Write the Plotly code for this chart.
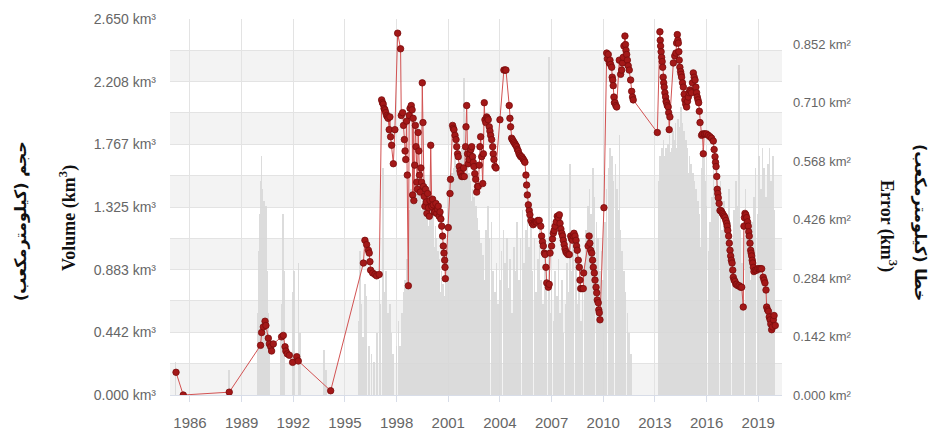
import plotly.graph_objects as go

# ---------------- DATA ----------------
vol_year = [
    1985.19, 1985.61, 1988.28,
    1990.10, 1990.16, 1990.26, 1990.36, 1990.41, 1990.55, 1990.61, 1990.69, 1990.74, 1990.84,
    1991.32, 1991.42, 1991.52, 1991.57, 1991.65, 1991.77, 1991.96, 1992.20, 1992.29,
    1994.17,
    1996.07, 1996.16, 1996.26, 1996.36, 1996.41, 1996.45, 1996.49, 1996.61, 1996.74, 1996.84, 1996.99,
    1997.13, 1997.18, 1997.22, 1997.27, 1997.32, 1997.37, 1997.42, 1997.47, 1997.51, 1997.57,
    1997.61, 1997.65, 1997.71, 1997.81, 1997.90,
    1998.06, 1998.23, 1998.27, 1998.35, 1998.40, 1998.45, 1998.49, 1998.53, 1998.58, 1998.62,
    1998.68, 1998.73, 1998.78, 1998.85, 1998.90, 1998.93, 1998.96, 1999.00, 1999.05, 1999.09,
    1999.13, 1999.17, 1999.21, 1999.25, 1999.29, 1999.33, 1999.37, 1999.41, 1999.45, 1999.49,
    1999.53, 1999.56, 1999.60, 1999.64, 1999.68, 1999.72, 1999.76, 1999.80, 1999.85, 1999.90,
    1999.94, 1999.98, 2000.04, 2000.09, 2000.13, 2000.18, 2000.23, 2000.28, 2000.33, 2000.38,
    2000.42, 2000.47, 2000.52, 2000.57, 2000.62, 2000.67, 2000.71, 2000.75, 2000.79, 2000.81,
    2000.83,
    2001.00, 2001.10, 2001.13, 2001.25, 2001.29, 2001.33, 2001.39, 2001.45, 2001.49, 2001.54,
    2001.58, 2001.64, 2001.68, 2001.72, 2001.78, 2001.84, 2001.89, 2001.93, 2002.00, 2002.03,
    2002.07, 2002.12, 2002.16, 2002.21, 2002.26, 2002.31, 2002.36, 2002.41, 2002.45, 2002.49,
    2002.54, 2002.59, 2002.65, 2002.70, 2002.74, 2002.80, 2002.84, 2002.88, 2002.94, 2003.00,
    2003.04, 2003.09, 2003.13, 2003.18, 2003.23, 2003.28, 2003.32, 2003.38, 2003.42, 2003.46,
    2003.52, 2003.58, 2003.61, 2003.65, 2003.71, 2003.77,
    2004.00, 2004.23, 2004.30, 2004.35, 2004.54, 2004.58, 2004.62, 2004.68, 2004.72, 2004.77,
    2004.82, 2004.87, 2004.92, 2004.97, 2005.02, 2005.06, 2005.11, 2005.16, 2005.21, 2005.26,
    2005.31, 2005.36, 2005.41, 2005.45, 2005.51, 2005.55, 2005.59, 2005.65, 2005.70, 2005.74,
    2005.80, 2005.87, 2005.93, 2006.00, 2006.07, 2006.13, 2006.20, 2006.28, 2006.37, 2006.42,
    2006.47, 2006.52, 2006.58, 2006.62, 2006.67, 2006.72, 2006.81, 2006.86, 2006.91,
    2007.00, 2007.05, 2007.10, 2007.15, 2007.20, 2007.27, 2007.33, 2007.39, 2007.45, 2007.49,
    2007.54, 2007.59, 2007.64, 2007.68, 2007.73, 2007.78, 2007.83, 2007.88, 2007.95,
    2008.03, 2008.11, 2008.16, 2008.22, 2008.26, 2008.30, 2008.36, 2008.42, 2008.45, 2008.49,
    2008.55, 2008.61, 2008.65, 2008.69, 2008.76, 2008.84, 2008.86,
    2009.12, 2009.18, 2009.22, 2009.27, 2009.33, 2009.38, 2009.42, 2009.48, 2009.52, 2009.58,
    2009.62, 2009.65, 2009.71, 2009.74, 2009.77, 2009.81,
    2010.04, 2010.20, 2010.24, 2010.29, 2010.35, 2010.39, 2010.43, 2010.49, 2010.52, 2010.55,
    2010.58, 2010.62, 2010.65, 2010.68, 2010.73, 2010.78, 2010.93,
    2011.01, 2011.07, 2011.12, 2011.16, 2011.20, 2011.26, 2011.29, 2011.32, 2011.36, 2011.40,
    2011.45, 2011.51, 2011.59, 2011.65, 2011.70, 2011.74,
    2013.14, 2013.29, 2013.31, 2013.33, 2013.36, 2013.39, 2013.42, 2013.45, 2013.48, 2013.51,
    2013.54, 2013.58, 2013.62, 2013.65, 2013.68, 2013.72, 2013.77, 2013.80, 2013.83, 2013.87,
    2014.07, 2014.15, 2014.22, 2014.26, 2014.30, 2014.33, 2014.36, 2014.39, 2014.41, 2014.45,
    2014.49, 2014.52, 2014.55, 2014.60, 2014.65, 2014.70, 2014.74, 2014.79, 2014.84, 2014.89,
    2014.94, 2014.99, 2015.03, 2015.08, 2015.13, 2015.18, 2015.23, 2015.28, 2015.33, 2015.38,
    2015.42, 2015.46, 2015.50, 2015.54, 2015.58, 2015.62, 2015.71, 2015.76, 2015.81, 2015.86,
    2015.91, 2016.00, 2016.10, 2016.20, 2016.29, 2016.39, 2016.44, 2016.49, 2016.52, 2016.55,
    2016.59, 2016.62, 2016.65, 2016.68, 2016.73, 2016.78, 2016.83, 2016.88, 2016.92, 2016.97,
    2017.02, 2017.07, 2017.12, 2017.17, 2017.20, 2017.23, 2017.28, 2017.32, 2017.36, 2017.40,
    2017.44, 2017.48, 2017.52, 2017.55, 2017.60, 2017.65, 2017.70, 2017.75, 2017.82, 2017.90,
    2017.97, 2018.04, 2018.13, 2018.17, 2018.20, 2018.23, 2018.28, 2018.33, 2018.38, 2018.42,
    2018.45, 2018.48, 2018.52, 2018.56, 2018.59, 2018.62, 2018.65, 2018.68, 2018.72, 2018.75,
    2018.83, 2018.91, 2018.98, 2019.06, 2019.13, 2019.20, 2019.29, 2019.34, 2019.39, 2019.45,
    2019.49, 2019.54, 2019.59, 2019.64, 2019.69, 2019.73, 2019.78, 2019.83, 2019.88, 2019.92,
    2019.99,
]
vol_value = [
    0.16, 0.00, 0.02,
    0.35, 0.44, 0.48, 0.52, 0.49, 0.40, 0.36, 0.34, 0.31, 0.36,
    0.41, 0.42, 0.34, 0.31, 0.29, 0.28, 0.23, 0.27, 0.24,
    0.03,
    0.93, 1.09, 1.06, 1.02, 1.00, 0.94, 0.88, 0.86, 0.85, 0.84, 0.85,
    2.08, 2.06, 2.05, 2.02, 2.01, 1.99, 1.97, 1.96, 1.95, 1.87,
    1.96, 1.82, 1.76, 1.63, 1.87,
    2.55, 2.44, 1.97, 1.99, 1.90, 1.80, 1.72, 1.66, 1.93, 1.55,
    0.77, 1.97, 2.02, 2.04, 2.01, 1.41, 1.95, 1.37, 1.62, 1.90,
    1.75, 1.50, 1.45, 1.85, 1.72, 1.55, 1.43, 1.60, 1.50, 2.20,
    1.92, 1.47, 1.40, 1.33, 1.45, 1.36, 1.28, 1.42, 1.32, 1.26,
    1.37, 1.76, 1.33, 1.38, 1.34, 1.29, 1.29, 1.35, 1.28, 1.31,
    1.33, 1.26, 1.29, 1.24, 1.19, 1.12, 1.05, 1.00, 0.95, 0.90,
    0.82,
    1.18, 1.42, 1.52, 1.90, 1.88, 1.87, 1.83, 1.80, 1.75, 1.70,
    1.68, 1.61, 1.58, 1.56, 1.54, 1.54, 1.60, 1.54, 1.75, 1.89,
    2.04, 1.70, 1.63, 1.66, 1.70, 1.73, 1.75, 1.68, 1.64, 1.61,
    1.56, 1.52, 1.43, 1.47, 1.47, 1.62, 1.75, 1.82, 1.68, 1.49,
    1.70, 2.06, 1.94, 1.92, 1.96, 1.95, 1.94, 1.89, 1.86, 1.83,
    1.80, 1.75, 1.70, 1.66, 1.61, 1.60,
    1.94, 2.29, 2.29, 2.29, 2.04, 1.95, 1.89, 1.81, 1.80, 1.79,
    1.78, 1.77, 1.76, 1.75, 1.73, 1.72, 1.70, 1.69, 1.68, 1.68,
    1.67, 1.66, 1.65, 1.64, 1.55, 1.48, 1.41, 1.34, 1.30, 1.27,
    1.23, 1.21, 1.20, 1.21, 1.22, 1.22, 1.23, 1.23, 1.19, 1.12,
    1.08, 1.05, 1.00, 0.99, 0.90, 0.79, 0.76, 0.78, 1.00,
    1.05, 1.10, 1.14, 1.16, 1.19, 1.22, 1.26, 1.25, 1.27, 1.21,
    1.17, 1.14, 1.12, 1.09, 1.06, 1.03, 1.01, 1.00, 0.99,
    0.99, 1.12, 1.10, 1.09, 1.12, 1.14, 1.12, 1.09, 1.05, 1.02,
    0.95, 0.90, 0.81, 0.75, 0.75, 0.75, 0.86,
    1.05, 1.12, 1.07, 1.02, 1.00, 0.95, 0.90, 0.86, 0.81, 0.76,
    0.72, 0.67, 0.65, 0.60, 0.58, 0.53,
    1.32, 2.41, 2.37, 2.40, 2.34, 2.36, 2.33, 2.31, 2.24, 2.22,
    2.18, 2.10, 2.06, 2.06, 2.04, 2.03, 2.36,
    2.26, 2.29, 2.34, 2.38, 2.46, 2.53, 2.47, 2.43, 2.40, 2.36,
    2.32, 2.29, 2.22, 2.14, 2.10, 2.08,
    1.85, 2.56, 2.50, 2.46, 2.42, 2.38, 2.35, 2.31, 2.24, 2.20,
    2.17, 2.13, 2.10, 2.07, 2.06, 2.04, 2.03, 1.99, 1.87, 1.96,
    2.34, 2.39, 2.41, 2.48, 2.54, 2.50, 2.48, 2.42, 2.36, 2.31,
    2.28, 2.26, 2.24, 2.20, 2.17, 2.12, 2.08, 2.05, 2.03, 2.07,
    2.10, 2.13, 2.15, 2.14, 2.13, 2.20, 2.27, 2.24, 2.22, 2.17,
    2.13, 2.10, 2.08, 2.06, 2.00, 1.92, 1.83, 1.84, 1.70, 1.84,
    1.84, 1.84, 1.83, 1.82, 1.81, 1.79, 1.73, 1.68, 1.64, 1.61,
    1.54, 1.45, 1.42, 1.39, 1.35, 1.30, 1.30, 1.29, 1.28, 1.27,
    1.26, 1.25, 1.23, 1.21, 1.19, 1.16, 1.12, 1.07, 1.02, 0.98,
    0.95, 0.93, 0.88, 0.83, 0.81, 0.80, 0.78, 0.78, 0.77, 0.77,
    0.76, 0.76, 0.62, 1.19, 1.25, 1.28, 1.27, 1.25, 1.22, 1.19,
    1.15, 1.12, 1.07, 1.02, 1.00, 0.98, 0.95, 0.93, 0.90, 0.87,
    0.88, 0.88, 0.89, 0.89, 0.89, 0.89, 0.83, 0.81, 0.79, 0.74,
    0.62, 0.60, 0.59, 0.55, 0.53, 0.50, 0.46, 0.48, 0.53, 0.56,
    0.49,
]

err_year = [
    1985.15, 1988.25,
    1989.95, 1990.00, 1990.05, 1990.10, 1990.15, 1990.20, 1990.25, 1990.30, 1990.35, 1990.40,
    1990.45, 1990.50, 1990.55, 1990.60,
    1991.30, 1991.35, 1991.40, 1991.45, 1991.50, 1991.95, 1992.05, 1992.30, 1992.40,
    1993.80, 1993.90,
    1995.80, 1995.88, 1995.95, 1996.05, 1996.15, 1996.25, 1996.40, 1996.55, 1996.70, 1996.85,
    1997.00, 1997.05, 1997.20, 1997.30, 1997.40, 1997.50, 1997.60, 1997.70, 1997.80,
    1998.00, 1998.10, 1998.20, 1998.30, 1998.40, 1998.50, 1998.60, 1998.70, 1998.75, 1998.80,
    1998.85, 1998.90, 1998.95, 1999.00, 1999.05, 1999.10, 1999.15, 1999.20, 1999.25, 1999.30,
    1999.35, 1999.40, 1999.45, 1999.50, 1999.55, 1999.60, 1999.65, 1999.70, 1999.75, 1999.80,
    1999.85, 1999.90, 1999.95, 2000.00, 2000.05, 2000.10, 2000.15, 2000.20, 2000.25, 2000.30,
    2000.35, 2000.40, 2000.45, 2000.50, 2000.55, 2000.60, 2000.65, 2000.70, 2000.75, 2000.80,
    2000.85, 2000.90, 2000.95, 2001.00, 2001.05, 2001.10, 2001.15, 2001.20, 2001.25, 2001.30,
    2001.35, 2001.40, 2001.45, 2001.50, 2001.55, 2001.60, 2001.65, 2001.70, 2001.75, 2001.80,
    2001.85, 2001.90, 2001.95, 2002.00, 2002.05, 2002.10, 2002.15, 2002.20, 2002.25, 2002.30,
    2002.35, 2002.40, 2002.45, 2002.50, 2002.55, 2002.60, 2002.65, 2002.70, 2002.75, 2002.80,
    2002.85, 2002.90, 2002.95, 2003.00, 2003.10, 2003.20, 2003.30, 2003.40, 2003.50, 2003.60,
    2003.70, 2003.80, 2003.90, 2004.00, 2004.10, 2004.20, 2004.30, 2004.40, 2004.50, 2004.60,
    2004.70, 2004.80, 2004.90, 2005.00, 2005.10, 2005.20, 2005.30, 2005.40, 2005.50, 2005.60,
    2005.70, 2005.80, 2005.90, 2006.00, 2006.10, 2006.20, 2006.30, 2006.40, 2006.50, 2006.60,
    2006.70, 2006.85, 2006.95, 2007.00, 2007.10, 2007.20, 2007.30, 2007.40, 2007.50, 2007.60,
    2007.70, 2007.80, 2007.90, 2008.00, 2008.07, 2008.15, 2008.25, 2008.40, 2008.50, 2008.60,
    2008.70, 2008.80, 2008.90, 2009.00, 2009.10, 2009.20, 2009.30, 2009.40, 2009.50, 2009.60,
    2009.70, 2009.80, 2009.90, 2010.00, 2010.10, 2010.20, 2010.30, 2010.40, 2010.50, 2010.60,
    2010.70, 2010.80, 2010.90, 2010.95, 2011.00, 2011.10, 2011.20, 2011.30, 2011.40, 2011.50,
    2011.60,
    2013.20, 2013.25, 2013.30, 2013.35, 2013.40, 2013.45, 2013.50, 2013.55, 2013.60, 2013.65,
    2013.70, 2013.75, 2013.80, 2013.85, 2013.90, 2013.95, 2014.00, 2014.05, 2014.10, 2014.15,
    2014.20, 2014.25, 2014.30, 2014.35, 2014.40, 2014.45, 2014.50, 2014.55, 2014.60, 2014.65,
    2014.70, 2014.75, 2014.80, 2014.85, 2014.90, 2014.95, 2015.00, 2015.05, 2015.10, 2015.15,
    2015.20, 2015.25, 2015.30, 2015.35, 2015.40, 2015.45, 2015.50, 2015.55, 2015.60, 2015.65,
    2015.70, 2015.75, 2015.80, 2015.85, 2015.90, 2015.95, 2016.00, 2016.10, 2016.20, 2016.30,
    2016.40, 2016.50, 2016.60, 2016.70, 2016.80, 2016.90, 2017.00, 2017.10, 2017.20, 2017.30,
    2017.40, 2017.50, 2017.60, 2017.70, 2017.80, 2017.88, 2017.95, 2018.05, 2018.15, 2018.25,
    2018.35, 2018.45, 2018.55, 2018.65, 2018.75, 2018.85, 2018.95, 2019.05, 2019.15, 2019.25,
    2019.35, 2019.45, 2019.55, 2019.65, 2019.75, 2019.85, 2019.95,
]
err_value = [
    0.08, 0.06,
    0.20, 0.35, 0.44, 0.52, 0.58, 0.50, 0.45, 0.47, 0.40, 0.46,
    0.44, 0.30, 0.20, 0.12,
    0.15, 0.22, 0.44, 0.30, 0.18, 0.25, 0.30, 0.32, 0.15,
    0.11, 0.06,
    0.18, 0.35, 0.22, 0.14, 0.27, 0.24, 0.12, 0.10, 0.08, 0.15,
    0.28, 0.22, 0.55, 0.25, 0.30, 0.20, 0.22, 0.15, 0.10,
    0.12, 0.18, 0.12, 0.20, 0.25, 0.28, 0.33, 0.38, 0.45, 0.42,
    0.50, 0.46, 0.47, 0.44, 0.49, 0.52, 0.48, 0.50, 0.46, 0.51,
    0.48, 0.45, 0.42, 0.49, 0.52, 0.47, 0.50, 0.44, 0.49, 0.46,
    0.41, 0.45, 0.40, 0.43, 0.39, 0.44, 0.40, 0.36, 0.41, 0.38,
    0.31, 0.35, 0.28, 0.33, 0.25, 0.30, 0.22, 0.27, 0.18, 0.24,
    0.30, 0.35, 0.42, 0.48, 0.45, 0.52, 0.50, 0.54, 0.49, 0.55,
    0.52, 0.58, 0.53, 0.56, 0.51, 0.57, 0.54, 0.59, 0.55, 0.60,
    0.56, 0.77, 0.55, 0.58, 0.53, 0.56, 0.50, 0.54, 0.49, 0.52,
    0.47, 0.50, 0.44, 0.48, 0.42, 0.46, 0.39, 0.43, 0.36, 0.40,
    0.33, 0.37, 0.30, 0.34, 0.28, 0.40, 0.46, 0.38, 0.42, 0.30,
    0.25, 0.32, 0.22, 0.28, 0.35, 0.40, 0.32, 0.38, 0.26, 0.33,
    0.20, 0.36, 0.30, 0.42, 0.28, 0.38, 0.45, 0.32, 0.40, 0.47,
    0.36, 0.43, 0.30, 0.38, 0.25, 0.33, 0.40, 0.28, 0.22, 0.35,
    0.30, 0.82, 0.20, 0.26, 0.18, 0.30, 0.24, 0.33, 0.20, 0.28,
    0.15, 0.22, 0.32, 0.25, 0.56, 0.30, 0.38, 0.35, 0.22, 0.28,
    0.18, 0.25, 0.32, 0.40, 0.46, 0.50, 0.44, 0.55, 0.48, 0.42,
    0.38, 0.30, 0.35, 0.28, 0.42, 0.50, 0.55, 0.60, 0.58, 0.52,
    0.56, 0.50, 0.45, 0.63, 0.40, 0.35, 0.30, 0.25, 0.20, 0.15,
    0.10,
    0.45, 0.52, 0.58, 0.55, 0.60, 0.57, 0.62, 0.58, 0.54, 0.60,
    0.56, 0.61, 0.57, 0.63, 0.59, 0.55, 0.60, 0.64, 0.58, 0.62,
    0.66, 0.60, 0.63, 0.67, 0.61, 0.65, 0.70, 0.62, 0.66, 0.60,
    0.64, 0.58, 0.62, 0.56, 0.60, 0.54, 0.58, 0.52, 0.56, 0.50,
    0.54, 0.48, 0.52, 0.45, 0.50, 0.42, 0.47, 0.40, 0.44, 0.36,
    0.40, 0.55, 0.60, 0.58, 0.52, 0.46, 0.40, 0.35, 0.42, 0.48,
    0.55, 0.50, 0.57, 0.45, 0.52, 0.40, 0.47, 0.38, 0.44, 0.50,
    0.42, 0.36, 0.45, 0.52, 0.46, 0.80, 0.40, 0.32, 0.45, 0.50,
    0.40, 0.34, 0.28, 0.42, 0.48, 0.55, 0.44, 0.58, 0.50, 0.60,
    0.55, 0.48, 0.56, 0.60, 0.52, 0.58, 0.45,
]

year_ticks = [1986, 1989, 1992, 1995, 1998, 2001, 2004, 2007, 2010, 2013, 2016, 2019]
vol_ticks = [0.000, 0.442, 0.883, 1.325, 1.767, 2.208, 2.650]
vol_minor = [0.221, 0.663, 1.104, 1.546, 1.988, 2.429]
vol_max = 2.650
err_ticks = [0.000, 0.142, 0.284, 0.426, 0.568, 0.710, 0.852]
err_max = 0.9127

# ---------------- LAYOUT GEOMETRY ----------------
W, H = 944, 431
L, R, T, B = 170, 162, 19, 36
PW, PH = W - L - R, H - T - B


def px(xp):
    return (xp - L) / PW


def py(yp):
    return 1 - (yp - T) / PH


vol_text = [f"{v:.3f} km³" for v in vol_ticks]
err_text = [f"{v:.3f} km²" for v in err_ticks]

fig = go.Figure()

# alternating bands between gridlines
band_edges = sorted(vol_ticks + vol_minor)
for j in range(0, len(band_edges) - 1, 2):
    fig.add_shape(type="rect", xref="paper", yref="y2", x0=0, x1=1,
                  y0=band_edges[j], y1=band_edges[j + 1],
                  fillcolor="#f3f3f3", line_width=0, layer="below")

fig.add_trace(go.Bar(
    x=err_year, y=err_value, yaxis="y", width=0.035,
    marker=dict(color="#d9d9d9", line_width=0), opacity=0.9,
    showlegend=False, hoverinfo="x+y",
))
fig.add_trace(go.Scatter(
    x=vol_year, y=vol_value, yaxis="y2", mode="lines+markers",
    line=dict(color="#d25252", width=1),
    marker=dict(size=6.5, color="#a31818", line=dict(color="#7a0c0c", width=0.8)),
    showlegend=False,
))

tick_font = dict(family="Liberation Sans, Arial, sans-serif", color="#666666")

fig.update_layout(
    width=W, height=H,
    margin=dict(l=L, r=R, t=T, b=B, pad=0, autoexpand=False),
    paper_bgcolor="white", plot_bgcolor="white",
    bargap=0,
    xaxis=dict(
        range=[1984.84, 2020.38], tickmode="array", tickvals=year_ticks,
        ticktext=[str(y) for y in year_ticks], automargin=False,
        showgrid=True, gridcolor="#e3e3e3", gridwidth=1,
        zeroline=False, showline=True, linecolor="#d8dde8", linewidth=1,
        ticks="outside", ticklen=6, tickcolor="#d8dde8", ticklabelstandoff=8,
        tickfont=dict(size=15, **tick_font),
    ),
    yaxis=dict(
        side="right", range=[0, err_max], tickmode="array", tickvals=err_ticks,
        ticktext=err_text, showgrid=False, zeroline=False, showline=False,
        ticks="", ticklabelstandoff=10, automargin=False,
        tickfont=dict(size=13, **tick_font),
    ),
    yaxis2=dict(
        side="left", overlaying="y", range=[0, vol_max], tickmode="array",
        tickvals=vol_ticks, ticktext=vol_text, showgrid=True, gridcolor="#e3e3e3",
        gridwidth=1, zeroline=False, showline=False, ticks="", ticklabelstandoff=13,
        automargin=False,
        tickfont=dict(size=14, **tick_font),
        minor=dict(tickmode="array", tickvals=vol_minor, showgrid=True,
                   gridcolor="#e3e3e3", gridwidth=1, ticks=""),
    ),
)

title_font = dict(family="Liberation Serif, Times New Roman, serif", size=18, color="#111111")
fa_font = dict(family="DejaVu Sans, sans-serif", size=16, color="#111111")
RLM = "\u200f"

annos = [
    dict(text="<b>Volume (km<sup>3</sup>)</b>", x=px(68), y=py(218), textangle=-90, font=title_font),
    dict(text="<b>Error (km<sup>3</sup>)</b>", x=px(888), y=py(226), textangle=90, font=title_font),
    dict(text="<b>" + RLM + "حجم (کیلومترمکعب)" + RLM + "</b>", x=px(20), y=py(221), textangle=-90, font=fa_font),
    dict(text="<b>" + RLM + "خطا (کیلومترمکعب)" + RLM + "</b>", x=px(921), y=py(222), textangle=90, font=fa_font),
]
for a in annos:
    fig.add_annotation(xref="paper", yref="paper", showarrow=False,
                       xanchor="center", yanchor="middle", **a)

fig.write_html("out.html")
